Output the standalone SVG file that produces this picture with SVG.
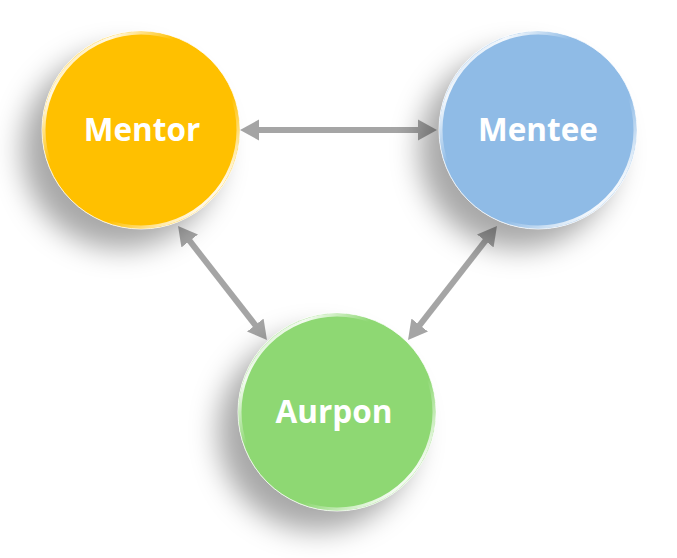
<svg xmlns="http://www.w3.org/2000/svg" width="677" height="558" viewBox="0 0 677 558">
  <defs>
    <filter id="shadow" x="-50%" y="-50%" width="200%" height="200%">
      <feDropShadow dx="-20" dy="20" stdDeviation="14" flood-color="#000" flood-opacity="0.34"/>
    </filter>
    <linearGradient id="rim" x1="0" y1="0" x2="1" y2="1">
      <stop offset="0" stop-color="#fff" stop-opacity="0.2"/>
      <stop offset="0.18" stop-color="#fff" stop-opacity="0.9"/>
      <stop offset="0.35" stop-color="#fff" stop-opacity="0"/>
      <stop offset="0.65" stop-color="#fff" stop-opacity="0"/>
      <stop offset="0.85" stop-color="#fff" stop-opacity="0.9"/>
      <stop offset="1" stop-color="#fff" stop-opacity="0.2"/>
    </linearGradient>
    <marker id="head" viewBox="-1 -11 20 22" refX="0" refY="0" markerWidth="20" markerHeight="22" markerUnits="userSpaceOnUse" orient="auto-start-reverse">
      <path d="M-1,-10.5 L18,0 L-1,10.5 z" fill="#000"/>
    </marker>
    <style>
      .node-body { filter: url(#shadow); }
      .rim { fill: none; stroke: url(#rim); stroke-width: 3; }
      .edge { fill: none; stroke: #fff; stroke-opacity: 0.8; stroke-width: 1; }
      .label { font-family: "Open Sans", "DejaVu Sans", sans-serif; font-weight: 700; font-size: 31.5px; fill: #fff; text-anchor: middle; }
      .conn { opacity: 0.35; }
      .conn line { stroke: #000; stroke-width: 6; marker-start: url(#head); marker-end: url(#head); }
    </style>
  </defs>

  <g id="mentor">
    <circle class="node-body" cx="141" cy="130" r="99" fill="#FFC000"/>
    <circle class="rim" cx="141" cy="130" r="97"/>
    <circle class="edge" cx="141" cy="130" r="99"/>
    <text class="label" x="142" y="141">Mentor</text>
  </g>

  <g id="mentee">
    <circle class="node-body" cx="538" cy="130" r="99" fill="#8FBBE6"/>
    <circle class="rim" cx="538" cy="130" r="97"/>
    <circle class="edge" cx="538" cy="130" r="99"/>
    <text class="label" x="538" y="141">Mentee</text>
  </g>

  <g id="aurpon">
    <circle class="node-body" cx="337" cy="412" r="99" fill="#8ED873"/>
    <circle class="rim" cx="337" cy="412" r="97"/>
    <circle class="edge" cx="337" cy="412" r="99"/>
    <text class="label" x="334" y="423">Aurpon</text>
  </g>

  <g id="connectors">
    <g class="conn"><line x1="258" y1="130" x2="419" y2="130"/></g>
    <g class="conn"><line x1="189.1" y1="240.2" x2="255.9" y2="325.8"/></g>
    <g class="conn"><line x1="485.9" y1="240.2" x2="419.1" y2="325.8"/></g>
  </g>
</svg>
